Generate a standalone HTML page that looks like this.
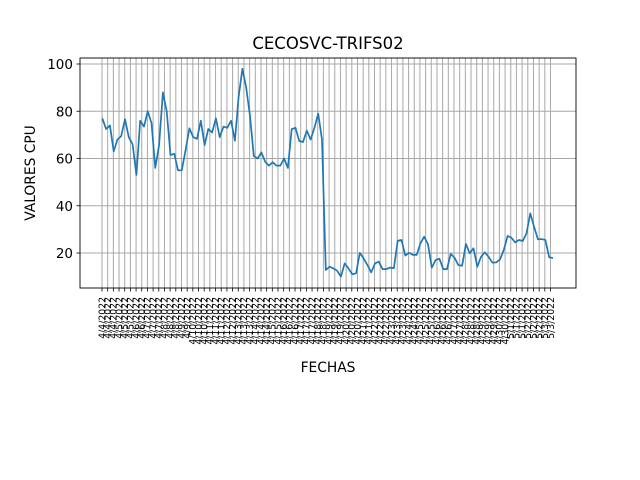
<!DOCTYPE html>
<html><head><meta charset="utf-8"><style>
html,body{margin:0;padding:0;background:#fff;}
svg{display:block;font-family:"DejaVu Sans","Liberation Sans",sans-serif;}
</style></head><body>
<svg id="chart" width="640" height="480" viewBox="0 0 640 480" xmlns="http://www.w3.org/2000/svg">
<rect width="640" height="480" fill="#fff"/>
<text x="328" y="49" font-size="16.5" text-anchor="middle">CECOSVC-TRIFS02</text>
<g id="grid"></g>
<g id="yticks"></g>
<g id="xticks"></g>
<polyline id="line" fill="none" stroke="#1f77b4" stroke-width="1.7" stroke-linejoin="round"/>
<rect x="80" y="58" width="496" height="230" fill="none" stroke="#000" stroke-width="0.9"/>
<text transform="translate(35,173) rotate(-90)" font-size="13.8" text-anchor="middle">VALORES CPU</text>
<text x="328" y="372" font-size="13.8" text-anchor="middle">FECHAS</text>
</svg>
<script>
const values = [77,72.5,74,63,68,69.5,76.6,69,66,53,76,73.5,80,75,56,65.7,88,80,61.5,62,55,55,63.6,72.8,69,68.3,76,65.7,72.5,71,77,69,73.5,73,76,67.5,86,98,90,78,61,60,62.6,58.6,57,58.4,57,57,60,56,72.4,73,67.4,67,71.8,68,73,79,68,12.8,14.2,13.5,12.5,10,15.6,13.5,11,11.4,20.1,17.7,14.9,11.8,15.6,16.3,13.2,13.2,13.8,13.6,25.2,25.5,18.9,20.1,19.2,19.2,24.1,26.9,23.7,13.8,17,17.6,13.2,13.2,19.6,18,14.9,14.6,23.8,19.9,22,14.2,18.4,20.3,18.4,15.9,16,17.3,21.3,27.2,26.5,24.5,25.5,25.1,28.3,36.8,31.1,25.8,25.9,25.5,18.2,17.9];
const dates = ["4/4/2022","4/5/2022","4/6/2022","4/7/2022","4/8/2022","4/9/2022","4/10/2022","4/11/2022","4/12/2022","4/13/2022","4/14/2022","4/15/2022","4/16/2022","4/17/2022","4/18/2022","4/19/2022","4/20/2022","4/21/2022","4/22/2022","4/23/2022","4/24/2022","4/25/2022","4/26/2022","4/27/2022","4/28/2022","4/29/2022","4/30/2022","5/1/2022","5/2/2022","5/3/2022"];
const yTicks = [20,40,60,80,100];
const NT = 80;
const tickLabels = [];
for (let i=0;i<NT;i++) tickLabels.push(dates[Math.min(dates.length-1, Math.floor(i*dates.length/NT))]);

const NS="http://www.w3.org/2000/svg";
function y(v){return 253 - (v-20)*2.3625;}
function xData(i){return 102.3 + i*(553-102.3)/(values.length-1);}
function xTick(i){return 102 + i*(550.5-102)/(NT-1);}
function mk(tag,attrs,parent){const e=document.createElementNS(NS,tag);for(const k in attrs)e.setAttribute(k,attrs[k]);parent.appendChild(e);return e;}
const grid=document.getElementById('grid'), yt=document.getElementById('yticks'), xt=document.getElementById('xticks');
yTicks.forEach(v=>{
  const g=mk('line',{x1:80,x2:576,y1:y(v),y2:y(v),stroke:'#a8a8a8','stroke-width':1},grid);
  
  
  mk('line',{x1:76.5,x2:80,y1:y(v),y2:y(v),stroke:'#000','stroke-width':0.8},yt);
  const t=mk('text',{x:73,y:y(v)+5,'font-size':13.5,'text-anchor':'end'},yt);
  t.textContent=v;
  
  
});
tickLabels.forEach((lab,i)=>{
  const x=xTick(i);
  const g=mk('line',{x1:x,x2:x,y1:58,y2:288,stroke:'#a8a8a8','stroke-width':1},grid);
  
  
  mk('line',{x1:x,x2:x,y1:288,y2:291.5,stroke:'#000','stroke-width':0.8},xt);
  const t=mk('text',{transform:`translate(${x+3.3},297) rotate(-90)`,'font-size':9.3,'text-anchor':'end'},xt);
  t.textContent=lab;
  
  
});
document.getElementById('line').setAttribute('points',values.map((v,i)=>xData(i).toFixed(1)+','+y(v).toFixed(1)).join(' '));
</script>
</body></html>
